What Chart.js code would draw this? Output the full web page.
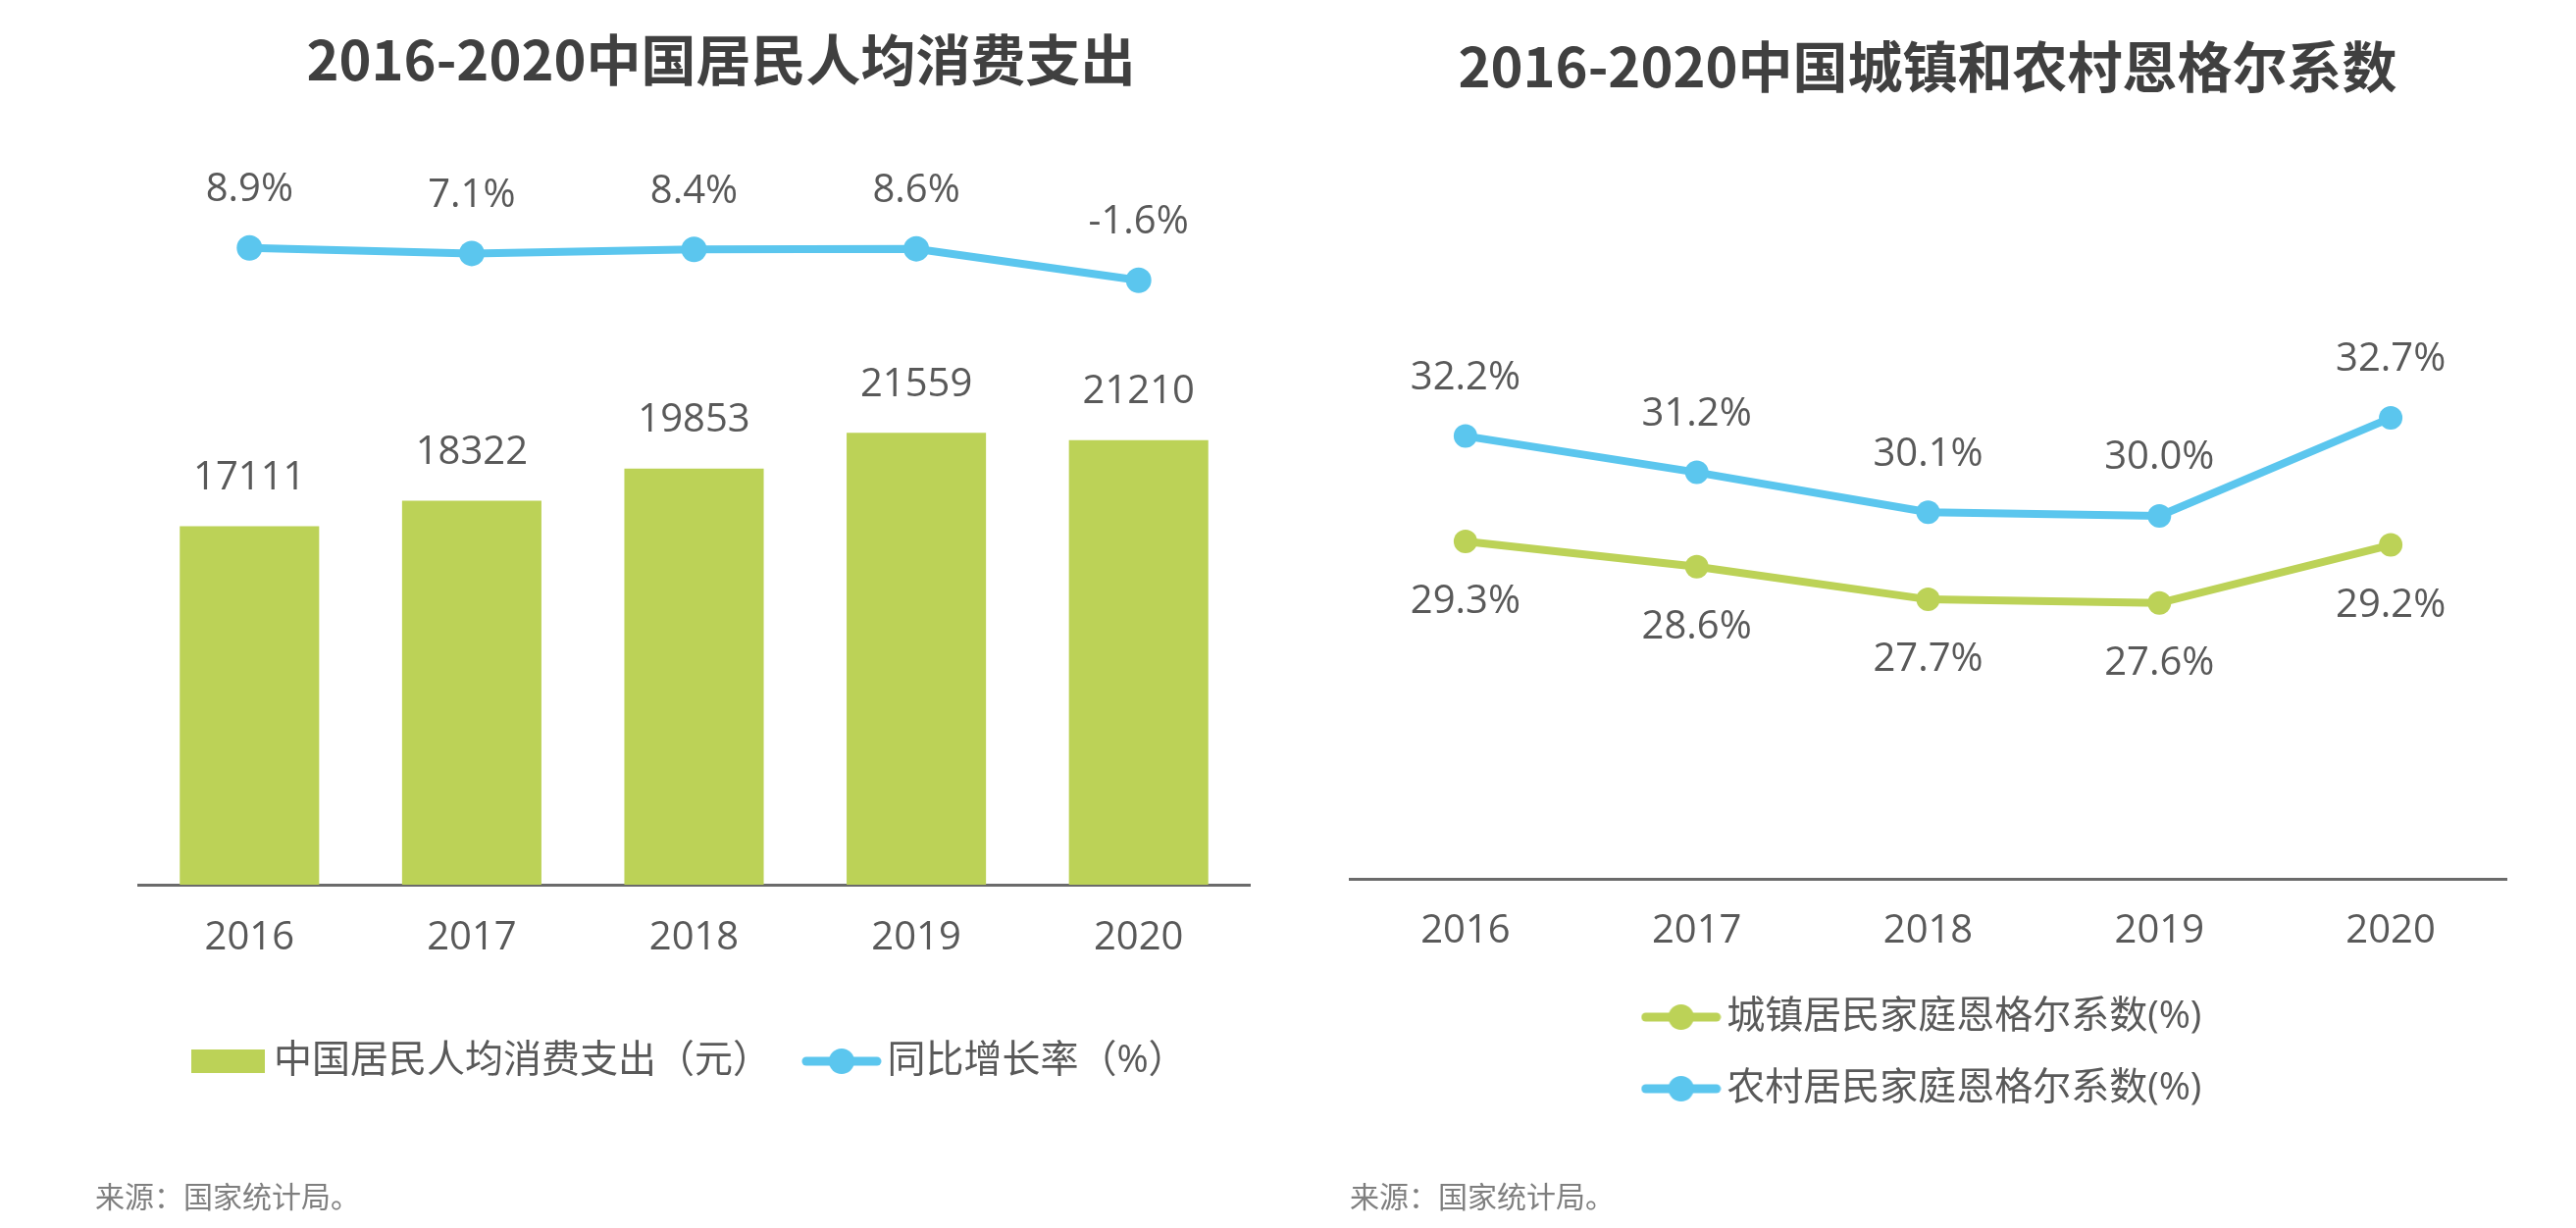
<!DOCTYPE html>
<html lang="zh-CN">
<head>
<meta charset="UTF-8">
<title>2016-2020中国居民人均消费支出与恩格尔系数</title>
<script src="https://cdn.jsdelivr.net/npm/chart.js"></script>
<style>
  body { margin: 0; background: #fff; }
  #page { position: relative; width: 2626px; height: 1252px; overflow: hidden; }
  canvas { position: absolute; top: 0; }
  .title {
    position: absolute; transform: translateX(-50%); white-space: nowrap;
    font-family: "Noto Sans CJK SC", sans-serif; font-weight: bold; font-size: 56px;
    line-height: 1; color: #404040;
  }
  .source {
    position: absolute; font-family: "Noto Sans CJK SC", sans-serif; font-size: 30px;
    line-height: 1; color: #7f7f7f;
  }
</style>
</head>
<body>
<div id="page">
  <div class="title" style="left:735px; top:30px;">2016-2020中国居民人均消费支出</div>
  <div class="title" style="left:1965px; top:37px;">2016-2020中国城镇和农村恩格尔系数</div>
  <canvas id="spending" width="1313" height="1252" style="left:0;"></canvas>
  <canvas id="engel" width="1313" height="1252" style="left:1313px;"></canvas>
  <div class="source" style="left:97px; top:1203px;">来源：国家统计局。</div>
  <div class="source" style="left:1376px; top:1203px;">来源：国家统计局。</div>
</div>

<script>
  // data
  const years = ['2016', '2017', '2018', '2019', '2020'];
  const spending = [17111, 18322, 19853, 21559, 21210];
  const growth = [8.9, 7.1, 8.4, 8.6, -1.6];
  const engelUrban = [29.3, 28.6, 27.7, 27.6, 29.2];
  const engelRural = [32.2, 31.2, 30.1, 30.0, 32.7];

  const GREEN = '#bcd257';
  const BLUE = '#5bc6ee';
  const TEXT = '#595959';
  const FONT = '"Open Sans", "Noto Sans CJK SC", sans-serif';

  Chart.defaults.font.family = FONT;
  Chart.defaults.color = TEXT;

  // legend markers: a line with a dot, and a flat box
  function lineMarker(color) {
    const c = document.createElement('canvas');
    c.width = 82; c.height = 28;
    const g = c.getContext('2d');
    g.strokeStyle = color; g.lineWidth = 9; g.lineCap = 'round';
    g.beginPath(); g.moveTo(5, 14); g.lineTo(77, 14); g.stroke();
    g.fillStyle = color;
    g.beginPath(); g.arc(41, 14, 13, 0, Math.PI * 2); g.fill();
    return c;
  }
  function boxMarker(color) {
    const c = document.createElement('canvas');
    c.width = 75; c.height = 24;
    const g = c.getContext('2d');
    g.fillStyle = color; g.fillRect(0, 0, 75, 24);
    return c;
  }

  // value labels above / below each point or bar
  const valueLabels = {
    id: 'valueLabels',
    afterDatasetsDraw(chart) {
      const ctx = chart.ctx;
      chart.data.datasets.forEach((ds, i) => {
        if (!ds.valueLabel) return;
        const meta = chart.getDatasetMeta(i);
        ctx.save();
        ctx.font = '40px ' + FONT;
        ctx.fillStyle = TEXT;
        ctx.textAlign = 'center';
        ctx.textBaseline = 'middle';
        meta.data.forEach((el, j) => {
          ctx.fillText(ds.valueLabel.fmt(ds.data[j]), el.x, el.y + ds.valueLabel.dy);
        });
        ctx.restore();
      });
    }
  };

  function legendWith(markers) {
    return function (chart) {
      const items = Chart.defaults.plugins.legend.labels.generateLabels(chart);
      items.forEach((it, i) => { it.pointStyle = markers[i]; });
      return items;
    };
  }

  const pct = v => v.toFixed(1) + '%';

  // left: bars + growth line
  new Chart(document.getElementById('spending'), {
    type: 'bar',
    data: {
      labels: years,
      datasets: [
        {
          label: '中国居民人均消费支出（元）',
          data: spending,
          backgroundColor: GREEN,
          categoryPercentage: 1,
          barPercentage: 0.627,
          yAxisID: 'y',
          valueLabel: { dy: -49, fmt: v => String(v) }
        },
        {
          type: 'line',
          label: '同比增长率（%）',
          data: growth,
          borderColor: BLUE,
          backgroundColor: BLUE,
          borderWidth: 8,
          pointRadius: 13,
          pointBorderWidth: 0,
          pointBackgroundColor: BLUE,
          tension: 0,
          yAxisID: 'y2',
          valueLabel: { dy: -59, fmt: pct }
        }
      ]
    },
    options: {
      responsive: false,
      animation: false,
      layout: { padding: { top: 120, left: 141, right: 39, bottom: 140.5 } },
      scales: {
        x: {
          grid: { display: false, drawTicks: false },
          border: { display: true, color: '#6b6b6b', width: 3 },
          ticks: { padding: 31, font: { size: 40 }, color: TEXT },
          afterFit: s => { s.height = 115.5; }
        },
        y: { display: false, min: 0, max: 36600 },
        y2: { display: false, position: 'right', min: -198, max: 51.2 }
      },
      plugins: {
        legend: {
          position: 'bottom',
          labels: {
            usePointStyle: true,
            pointStyleWidth: 54,
            padding: 45,
            font: { size: 39 },
            color: TEXT,
            generateLabels: legendWith([boxMarker(GREEN), lineMarker(BLUE)])
          }
        },
        tooltip: { enabled: false }
      }
    },
    plugins: [valueLabels]
  });

  // right: urban and rural Engel coefficients
  new Chart(document.getElementById('engel'), {
    type: 'line',
    data: {
      labels: years,
      datasets: [
        {
          label: '城镇居民家庭恩格尔系数(%)',
          data: engelUrban,
          borderColor: GREEN,
          backgroundColor: GREEN,
          borderWidth: 8,
          pointRadius: 12,
          pointBorderWidth: 0,
          pointBackgroundColor: GREEN,
          tension: 0,
          valueLabel: { dy: 62, fmt: pct }
        },
        {
          label: '农村居民家庭恩格尔系数(%)',
          data: engelRural,
          borderColor: BLUE,
          backgroundColor: BLUE,
          borderWidth: 8,
          pointRadius: 12,
          pointBorderWidth: 0,
          pointBackgroundColor: BLUE,
          tension: 0,
          valueLabel: { dy: -59, fmt: pct }
        }
      ]
    },
    options: {
      responsive: false,
      animation: false,
      layout: { padding: { top: 156, left: 63, right: 71, bottom: 112.5 } },
      scales: {
        x: {
          offset: true,
          grid: { display: false, drawTicks: false },
          border: { display: true, color: '#6b6b6b', width: 3 },
          ticks: { padding: 30, font: { size: 40 }, color: TEXT },
          afterFit: s => { s.height = 87.5; }
        },
        y: { display: false, min: 20, max: 40 }
      },
      plugins: {
        legend: {
          position: 'bottom',
          maxWidth: 800,
          labels: {
            usePointStyle: true,
            pointStyleWidth: 54,
            padding: 34,
            font: { size: 39 },
            color: TEXT,
            generateLabels: legendWith([lineMarker(GREEN), lineMarker(BLUE)])
          }
        },
        tooltip: { enabled: false }
      }
    },
    plugins: [valueLabels]
  });
</script>
</body>
</html>
